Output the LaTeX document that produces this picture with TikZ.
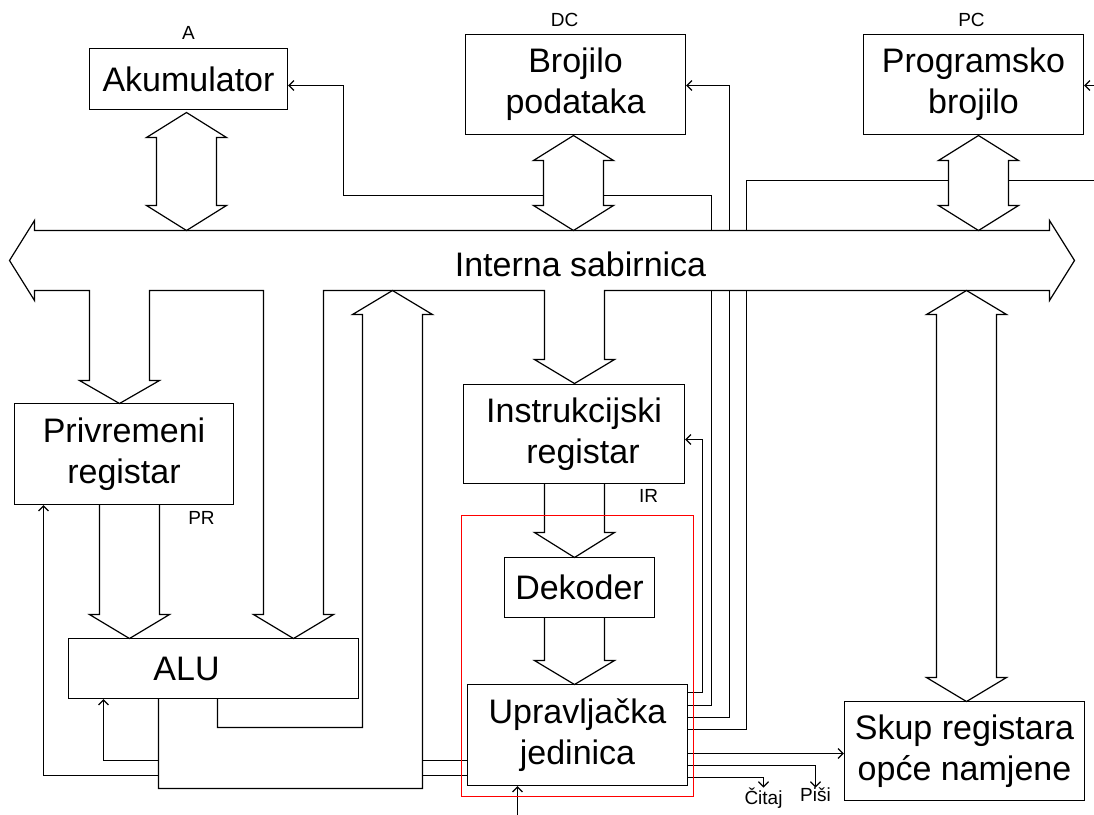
\documentclass[tikz,border=0pt]{standalone}
\usepackage{fontspec}
\setmainfont{Liberation Sans}
\usetikzlibrary{arrows.meta,backgrounds,positioning}
\newcommand\veliki{\fontsize{34}{41}\selectfont}
\newcommand\mali{\fontsize{19}{22}\selectfont}

\begin{document}
\begin{tikzpicture}[x=1pt, y=-1pt, shift={(0.5,0.5)}, line width=1.2pt, >={Straight Barb[length=5pt,width=10pt]},
    blok/.style={draw, rectangle, inner sep=0pt, align=center, font=\veliki},
    oznaka/.style={inner sep=0pt, font=\mali},
    zica/.style={->},
    sirina/.style={draw, fill=white, line join=miter}]
    \useasboundingbox (-0.5,-0.5) rectangle (1093.5,813.5);

    % blokovi
    \node[blok, minimum width=198pt, minimum height=61pt] (akum) at (188,78.5) {Akumulator};
    \node[blok, minimum width=220pt, minimum height=100pt] (dc) at (575,84) {Brojilo\\podataka};
    \node[blok, minimum width=220pt, minimum height=100pt] (pc) at (973,84) {Programsko\\brojilo};
    \node[blok, minimum width=219pt, minimum height=101pt] (pr) at (123.5,453.5) {Privremeni\\registar};
    \node[blok, align=left, minimum width=290pt, minimum height=60pt] (alu) at (213,668) {ALU\hspace{54pt}};
    \node[blok, minimum width=221pt, minimum height=99pt] (ir) at (573.5,433.5) {Instrukcijski\\\hspace*{18pt}registar};
    \node[blok, minimum width=150pt, minimum height=60pt] (dek) at (579,587) {Dekoder};
    \node[blok, minimum width=220pt, minimum height=101pt] (uj) at (577,734.5) {Upravljačka\\jedinica};
    \node[blok, minimum width=240pt, minimum height=99pt] (skup) at (964,750.5) {Skup registara\\opće namjene};
    \node[font=\veliki] (sab) at (580,263.5) {Interna sabirnica};

    % oznake
    \node[oznaka, above=8pt of akum] (a) {A};
    \node[oznaka, above=7pt of dc, xshift=-11pt] (dcl) {DC};
    \node[oznaka, above=7pt of pc, xshift=-2pt] (pcl) {PC};
    \node[oznaka] (prl) at (201,517) {PR};
    \node[oznaka] (irl) at (648,495) {IR};
    \node[oznaka, anchor=north] (citaj) at (763,787) {Čitaj};
    \node[oznaka, anchor=north] (pisi) at (815,787) {Piši};

    \coordinate (rub1) at (1094,180);
    \coordinate (rub2) at (1094,85);
    \coordinate (ulaz) at (517,814);

    \begin{scope}[on background layer]
    \begin{scope}[line width=1.2pt, black]
    % upravljacke linije
    \draw[zica] (uj.east |- 0,692) -- (702,692) |- (ir.east |- 0,439);
    \draw[zica] (uj.east |- 0,705) -- (711,705) |- (343,195) |- (akum.east |- 0,85);
    \draw[zica] (uj.east |- 0,717) -- (729,717) |- (dc.east |- 0,85);
    \draw (uj.east |- 0,729) -- (746,729) |- (rub1);
    \draw[zica] (rub2) -- (pc.east |- 0,85);
    \draw[zica] (uj.east |- 0,753) -- (skup.west |- 0,753);
    \draw[zica] (uj.east |- 0,765) -| (pisi.north);
    \draw[zica] (uj.east |- 0,777) -| (citaj.north);
    \draw[zica] (uj.west |- 0,760) -| (alu.south -| 103,0);
    \draw[zica] (uj.west |- 0,775) -| (pr.south -| 43,0);
    \draw[zica] (ulaz) -- (uj.south -| ulaz);

    % sabirnica
    \draw[sirina] (9,260) -- (34,220) -- (34,230) -- (1049,230) -- (1049,220) -- (1074,260) -- (1049,300) -- (1049,290)
        -- (604,290) -- (604,359) -- (614,359) -- (574,383) -- (534,359) -- (544,359) -- (544,290)
        -- (323,290) -- (323,614) -- (333,614) -- (293,638) -- (253,614) -- (263,614) -- (263,290)
        -- (149,290) -- (149,380) -- (159,380) -- (119,403) -- (79,380) -- (89,380) -- (89,290)
        -- (34,290) -- (34,300) -- cycle;

    % izlaz ALU
    \draw[sirina] (158,698) -- (158,788) -- (422,788) -- (422,314) -- (432,314) -- (392,290)
        -- (352,314) -- (362,314) -- (362,727) -- (217,727) -- (217,698);

    % dvosmjerne strelice
    \foreach \c/\t/\b/\h in {186/112/230/25, 573/135/230/25, 978/135/230/25, 966/290/701/24}
        \draw[sirina] (\c,\t) -- ({\c+40},{\t+\h}) -- ({\c+30},{\t+\h}) -- ({\c+30},{\b-\h}) -- ({\c+40},{\b-\h})
            -- (\c,\b) -- ({\c-40},{\b-\h}) -- ({\c-30},{\b-\h}) -- ({\c-30},{\t+\h}) -- ({\c-40},{\t+\h}) -- cycle;

    % jednosmjerne strelice
    \foreach \c/\t/\b/\v in {129/504/614/638, 574/483/532/557, 574/617/660/684}
        \draw[sirina] ({\c-30},\t) -- ({\c-30},\b) -- ({\c-40},\b) -- (\c,\v) -- ({\c+40},\b) -- ({\c+30},\b) -- ({\c+30},\t);
    \end{scope}
    \end{scope}

    % upravljacka cjelina
    \draw[red] (461,515) rectangle (693,796);
\end{tikzpicture}
\end{document}
